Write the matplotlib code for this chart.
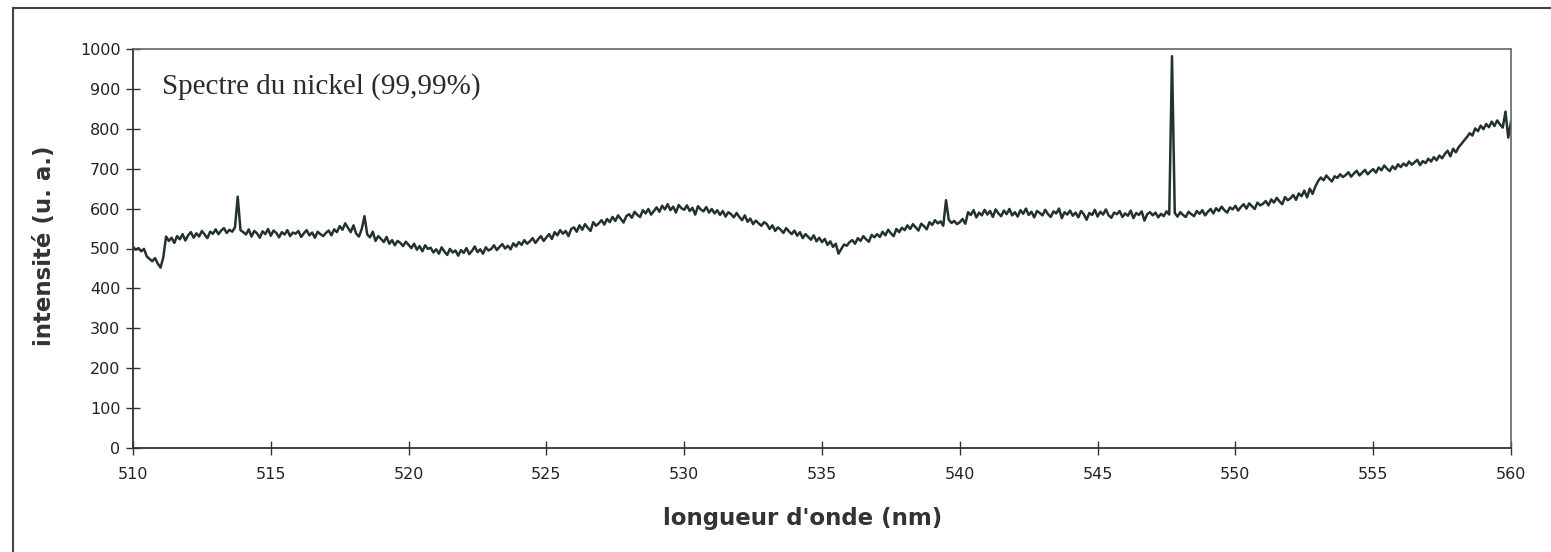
"""
Spectre du nickel (99,99%) - intensité vs longueur d'onde.
Valeurs relevées à la main sur la figure scannée, pas de 0,1 nm.
"""
import matplotlib
matplotlib.use("Agg")
import matplotlib.pyplot as plt
from matplotlib.lines import Line2D
import numpy as np

lambda_start = 510.0
lambda_step = 0.1

# intensité (u. a.), une ligne par nm : x.0 ... x.9
intensity = [
    504, 497, 501, 493, 499, 480, 474, 468, 476, 462,  # 510
    452, 478, 530, 519, 527, 514, 531, 523, 536, 520,  # 511
    533, 541, 527, 538, 530, 544, 535, 526, 542, 537,  # 512
    548, 536, 545, 551, 539, 547, 542, 553, 630, 546,  # 513
    541, 535, 548, 530, 544, 538, 527, 543, 536, 549,  # 514
    532, 545, 539, 528, 541, 535, 546, 531, 540, 537,  # 515
    544, 529, 538, 546, 533, 540, 527, 542, 536, 531,  # 516
    539, 545, 533, 548, 541, 556, 547, 563, 552, 541,  # 517
    558, 537, 530, 549, 581, 535, 528, 542, 519, 531,  # 518
    524, 516, 529, 512, 521, 508, 519, 514, 506, 517,  # 519
    509, 501, 512, 497, 506, 493, 508, 499, 502, 490,  # 520
    498, 487, 503, 492, 484, 499, 490, 495, 482, 496,  # 521
    489, 501, 486, 494, 505, 491, 498, 487, 503, 495,  # 522
    499, 508, 496, 504, 511, 500, 507, 498, 513, 505,  # 523
    516, 509, 521, 512, 518, 526, 514, 523, 531, 519,  # 524
    528, 536, 524, 541, 533, 546, 537, 544, 531, 549,  # 525
    553, 542, 558, 547, 561, 552, 544, 566, 557, 563,  # 526
    571, 560, 574, 566, 579, 569, 583, 574, 565, 581,  # 527
    586, 577, 592, 584, 579, 596, 588, 599, 585, 594,  # 528
    603, 592, 607, 598, 611, 596, 605, 590, 609, 601,  # 529
    597, 608, 594, 602, 585, 606, 598, 593, 604, 590,  # 530
    599, 588, 596, 584, 594, 580, 591, 586, 578, 589,  # 531
    579, 571, 583, 567, 575, 561, 570, 563, 557, 566,  # 532
    561, 549, 558, 544, 553, 547, 539, 551, 543, 536,  # 533
    545, 532, 541, 526, 536, 529, 522, 533, 518, 527,  # 534
    516, 524, 509, 518, 504, 512, 487, 499, 510, 507,  # 535
    516, 521, 512, 526, 519, 531, 523, 517, 534, 528,  # 536
    536, 529, 542, 533, 547, 538, 531, 549, 541, 552,  # 537
    546, 558, 549, 561, 553, 545, 562, 556, 548, 566,  # 538
    559, 571, 563, 568, 557, 621, 572, 564, 569, 561,  # 539
    566, 574, 562, 591, 584, 596, 578, 590, 583, 597,  # 540
    585, 594, 579, 598, 588, 581, 595, 586, 599, 583,  # 541
    591, 580, 596, 587, 600, 584, 592, 578, 594, 589,  # 542
    583, 597, 586, 579, 593, 588, 600, 576, 591, 585,  # 543
    595, 582, 590, 578, 594, 586, 572, 589, 584, 597,  # 544
    580, 592, 585, 598, 583, 577, 590, 586, 594, 579,  # 545
    588, 582, 595, 576, 589, 584, 593, 570, 586, 591,  # 546
    583, 590, 578, 587, 581, 593, 585, 982, 589, 580,  # 547
    591, 584, 579, 592, 586, 581, 594, 587, 596, 583,  # 548
    592, 599, 588, 601, 594, 605, 596, 590, 603, 598,  # 549
    607, 595, 604, 611, 600, 613, 606, 599, 615, 608,  # 550
    612, 619, 608, 623, 615, 627, 618, 611, 629, 621,  # 551
    626, 634, 622, 638, 631, 645, 628, 650, 637, 655,  # 552
    669, 678, 671, 683, 675, 668, 681, 677, 686, 679,  # 553
    684, 691, 680, 688, 695, 683, 690, 697, 686, 693,  # 554
    699, 690, 703, 696, 708, 700, 694, 706, 699, 711,  # 555
    704, 713, 707, 718, 710, 716, 722, 709, 719, 714,  # 556
    725, 718, 729, 721, 733, 726, 737, 745, 731, 750,  # 557
    741, 754, 762, 771, 779, 789, 783, 801, 794, 808,  # 558
    799, 812, 804, 818, 807, 821, 811, 803, 843, 778,  # 559
    818,                                               # 560
]

x_ticks = [510, 515, 520, 525, 530, 535, 540, 545, 550, 555, 560]
y_ticks = [0, 100, 200, 300, 400, 500, 600, 700, 800, 900, 1000]
title = "Spectre du nickel (99,99%)"


def main():
    wl = lambda_start + lambda_step * np.arange(len(intensity))

    fig = plt.figure(figsize=(15.51, 5.52), dpi=100)
    ax = fig.add_axes([133 / 1551, 1 - 448 / 552, (1511 - 133) / 1551, (448 - 49) / 552])

    ax.plot(wl, intensity, color="#24322e", lw=1.8)

    ax.set_xlim(510, 560)
    ax.set_ylim(0, 1000)
    ax.set_xticks(x_ticks)
    ax.set_yticks(y_ticks)
    ax.tick_params(direction="inout", length=10, width=1, color="#333333",
                   labelsize=11.5, labelcolor="#222222")
    ax.tick_params(axis="x", pad=9)
    ax.tick_params(axis="y", pad=4)
    for lab in ax.get_xticklabels() + ax.get_yticklabels():
        lab.set_family("DejaVu Sans")

    for side in ["left", "bottom"]:
        ax.spines[side].set_color("#333333")
        ax.spines[side].set_linewidth(1.3)
    for side in ["top", "right"]:
        ax.spines[side].set_color("#666666")
        ax.spines[side].set_linestyle((0, (1, 1)))
        ax.spines[side].set_linewidth(1.2)

    ax.text(511.05, 907, title, family="Liberation Serif", fontsize=21,
            color="#2a2a2a", ha="left", va="center")

    fig.text(803 / 1551, 1 - 518 / 552, "longueur d'onde (nm)", family="DejaVu Sans",
             fontweight="bold", fontsize=16.5, color="#333333", ha="center", va="center")
    fig.text(45 / 1551, 1 - 246 / 552, "intensité (u. a.)", family="DejaVu Sans",
             fontweight="bold", fontsize=16.5, color="#333333", ha="center", va="center",
             rotation=90)

    # cadre extérieur (bord haut et gauche visibles sur le scan)
    fig.add_artist(Line2D([13 / 1551, 13 / 1551], [0, 1 - 8 / 552], color="#444444", lw=1.5))
    fig.add_artist(Line2D([13 / 1551, 1], [1 - 8 / 552, 1 - 8 / 552], color="#444444", lw=1.5))

    fig.savefig("out.png", dpi=100, facecolor="white")


if __name__ == "__main__":
    main()
